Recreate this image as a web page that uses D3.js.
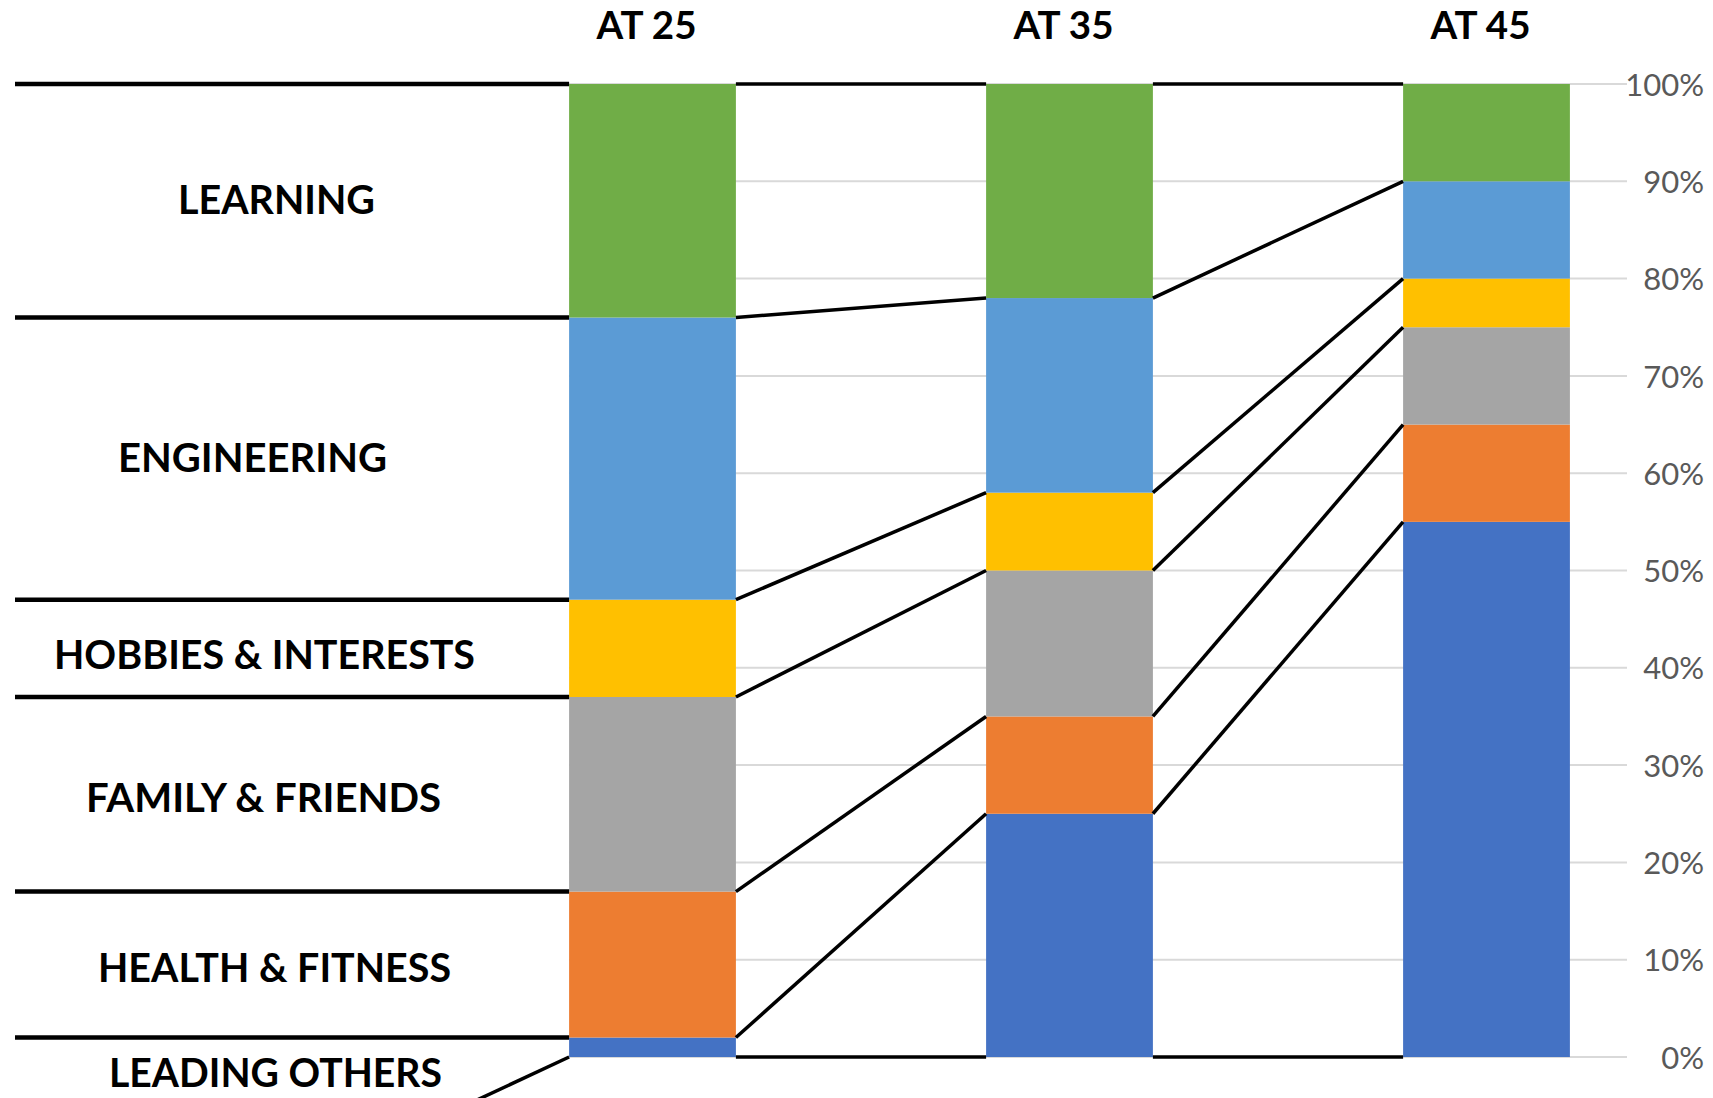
<!DOCTYPE html>
<html>
<head>
<meta charset="utf-8">
<script src="https://cdn.jsdelivr.net/npm/d3@7"></script>
<style>
  html, body { margin: 0; padding: 0; background: #ffffff; }
  svg { display: block; }
</style>
</head>
<body>
<svg id="chart" width="1713" height="1098"></svg>
<script>
// ---- data ----
const categories = ["AT 25", "AT 35", "AT 45"];
const seriesNames = ["LEADING OTHERS", "HEALTH & FITNESS", "FAMILY & FRIENDS", "HOBBIES & INTERESTS", "ENGINEERING", "LEARNING"];
const leadingOthers = [2, 25, 55];
const healthFitness = [15, 10, 10];
const familyFriends = [20, 15, 10];
const hobbiesInterests = [10, 8, 5];
const engineering = [29, 20, 10];
const learning = [24, 22, 10];
const tickValues = [0, 10, 20, 30, 40, 50, 60, 70, 80, 90, 100];

// ---- styles ----
const colors = ["#4472C4", "#ED7D31", "#A5A5A5", "#FFC000", "#5B9BD5", "#70AD47"];
// per-label layout (x centre, measured width) for the left-hand labels
const labelLayout = [
  { cx: 275.5, w: 333, dy: 16 },
  { cx: 274.5, w: 353, dy: 3 },
  { cx: 263.5, w: 355, dy: 3 },
  { cx: 264.5, w: 421, dy: 6 },
  { cx: 252.5, w: 269, dy: -1 },
  { cx: 276.5, w: 197, dy: -1 }
];

const seriesValues = [leadingOthers, healthFitness, familyFriends, hobbiesInterests, engineering, learning];
const rows = categories.map((c, i) => {
  const r = { cat: c };
  seriesNames.forEach((s, j) => r[s] = seriesValues[j][i]);
  return r;
});
const stacked = d3.stack().keys(seriesNames)(rows);

const svg = d3.select("#chart");
const x = d3.scaleBand().domain(categories).range([444, 1695]).paddingInner(0.6).paddingOuter(0.3);
const y = d3.scaleLinear().domain([0, 100]).range([1057, 84]);
const gridRight = 1627;

// gridlines
svg.append("g").selectAll("line").data(tickValues).join("line")
  .attr("x1", x(categories[0])).attr("x2", gridRight)
  .attr("y1", d => y(d)).attr("y2", d => y(d))
  .attr("stroke", "#d9d9d9").attr("stroke-width", 2);

// y axis labels
const axis = d3.axisRight(y).tickValues(tickValues).tickFormat(d => d + "%").tickSize(0).tickPadding(0);
const ax = svg.append("g").attr("transform", `translate(1704,0)`).call(axis);
ax.select(".domain").remove();
ax.selectAll("text")
  .attr("text-anchor", "end")
  .attr("dy", "0.36em")
  .attr("fill", "#595959")
  .style("font-family", "Lato, 'Open Sans', sans-serif")
  .style("font-size", "31px");

// bars
const bw = x.bandwidth();
svg.append("g").selectAll("g").data(stacked).join("g")
  .attr("fill", (d, i) => colors[i])
  .selectAll("rect").data(d => d).join("rect")
  .attr("x", d => x(d.data.cat))
  .attr("y", d => y(d[1]))
  .attr("width", bw)
  .attr("height", d => y(d[0]) - y(d[1]));

// series connector lines between bars (tops of each segment + baseline)
const lineG = svg.append("g").attr("stroke", "#000").attr("stroke-width", 3.5).attr("stroke-linecap", "butt");
const levels = [];
categories.forEach((c, i) => {
  const arr = [0];
  stacked.forEach(s => arr.push(s[i][1]));
  levels.push(arr);
});
for (let i = 0; i < categories.length - 1; i++) {
  const xa = x(categories[i]) + bw, xb = x(categories[i + 1]);
  levels[i].forEach((v, k) => {
    lineG.append("line")
      .attr("x1", xa).attr("y1", y(v))
      .attr("x2", xb).attr("y2", y(levels[i + 1][k]));
  });
}

// left-hand separators aligned with the first bar's segment boundaries
const leftG = svg.append("g").attr("stroke", "#000").attr("stroke-width", 4.5);
levels[0].slice(1).forEach(v => {
  leftG.append("line").attr("x1", 15).attr("x2", x(categories[0]))
    .attr("y1", y(v)).attr("y2", y(v));
});
// baseline connector sloping off to the lower left
lineG.append("line")
  .attr("x1", x(categories[0])).attr("y1", y(0))
  .attr("x2", x(categories[0]) - 180).attr("y2", y(0) + 84);

// left labels
const labG = svg.append("g")
  .style("font-family", "Lato, 'Open Sans', sans-serif")
  .style("font-weight", "bold")
  .style("font-size", "40px")
  .attr("fill", "#000");
stacked.forEach((s, j) => {
  const lo = s[0][0], hi = s[0][1];
  const cy = j === 0 ? y(lo) : y((lo + hi) / 2);
  labG.append("text")
    .attr("x", labelLayout[j].cx)
    .attr("y", cy + labelLayout[j].dy + 14.3)
    .attr("text-anchor", "middle")
    .attr("textLength", labelLayout[j].w)
    .attr("lengthAdjust", "spacingAndGlyphs")
    .text(seriesNames[j]);
});

// top category labels
svg.append("g").selectAll("text").data(categories).join("text")
  .attr("x", d => x(d) + bw / 2 - 6)
  .attr("y", 39)
  .attr("text-anchor", "middle")
  .attr("textLength", 100)
  .attr("lengthAdjust", "spacingAndGlyphs")
  .style("font-family", "Lato, 'Open Sans', sans-serif")
  .style("font-weight", "bold")
  .style("font-size", "38px")
  .text(d => d);
</script>
</body>
</html>
